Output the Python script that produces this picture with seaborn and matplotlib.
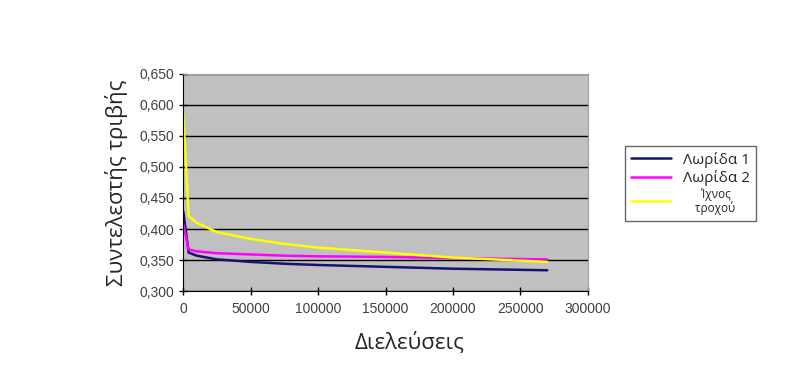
"""
Friction coefficient vs number of passes, three measurement lines.
"""

import pandas as pd
import seaborn as sns
import matplotlib.pyplot as plt
from matplotlib.ticker import FuncFormatter

passes = [0, 4000, 10000, 25000, 50000, 75000, 100000, 150000, 200000, 270000]
lane_1 = [0.428, 0.362, 0.357, 0.351, 0.347, 0.344, 0.342, 0.339, 0.336, 0.3335]
lane_2 = [0.408, 0.367, 0.364, 0.361, 0.359, 0.357, 0.356, 0.355, 0.353, 0.351]
wheel_track = [0.587, 0.421, 0.410, 0.395, 0.384, 0.376, 0.370, 0.362, 0.354, 0.347]

series_names = ["Λωρίδα 1", "Λωρίδα 2", "Ίχνος\nτροχού"]
colors = ["#14146e", "#ff00ff", "#ffff00"]

df = pd.concat([
    pd.DataFrame({"x": passes, "y": vals, "series": name})
    for name, vals in zip(series_names, [lane_1, lane_2, wheel_track])
])

sns.set_style("white")
plt.rcParams["font.family"] = ["Liberation Sans", "DejaVu Sans"]
greek = ["Open Sans", "DejaVu Sans"]

fig = plt.figure(figsize=(7.9, 3.77), dpi=100)
ax = fig.add_axes([0.232, 0.228, 0.512, 0.576])
ax.set_facecolor("#c0c0c0")

sns.lineplot(data=df, x="x", y="y", hue="series", palette=colors,
             linewidth=1.8, ax=ax, sort=False)

ax.set_xlim(0, 300000)
ax.set_ylim(0.300, 0.650)
ax.set_xticks(range(0, 300001, 50000))
ax.set_yticks([0.30 + 0.05 * i for i in range(8)])
ax.yaxis.set_major_formatter(FuncFormatter(lambda v, _: f"{v:.3f}".replace(".", ",")))
ax.xaxis.set_major_formatter(FuncFormatter(lambda v, _: f"{int(v)}"))
ax.grid(axis="y", color="black", linewidth=1.0)
ax.set_axisbelow(True)

for side in ["top", "right"]:
    ax.spines[side].set_color("#a0a0a0")
for side in ["left", "bottom"]:
    ax.spines[side].set_color("black")
ax.tick_params(axis="both", direction="inout", length=6, width=1, color="black",
               labelsize=10, labelcolor="#404040", left=True, bottom=True)
ax.tick_params(axis="x", pad=5)

ax.set_xlabel("Διελεύσεις", fontsize=16, family=greek)
ax.xaxis.set_label_coords(0.56, -0.19)
ax.set_ylabel("Συντελεστής τριβής", fontsize=16, family=greek, labelpad=8)

leg = ax.legend(loc="center left", bbox_to_anchor=(1.073, 0.495), frameon=True,
                fancybox=False, edgecolor="#404040", fontsize=11,
                handlelength=2.6, borderpad=0.4, labelspacing=0.15,
                handletextpad=0.8)
leg.get_frame().set_linewidth(1.0)
texts = leg.get_texts()
for t in texts:
    t.set_family(greek)
texts[2].set_text("      Ίχνος\n    τροχού")
texts[2].set_fontsize(8.5)
texts[2].set_linespacing(1.0)

fig.savefig("out.png", dpi=100)
